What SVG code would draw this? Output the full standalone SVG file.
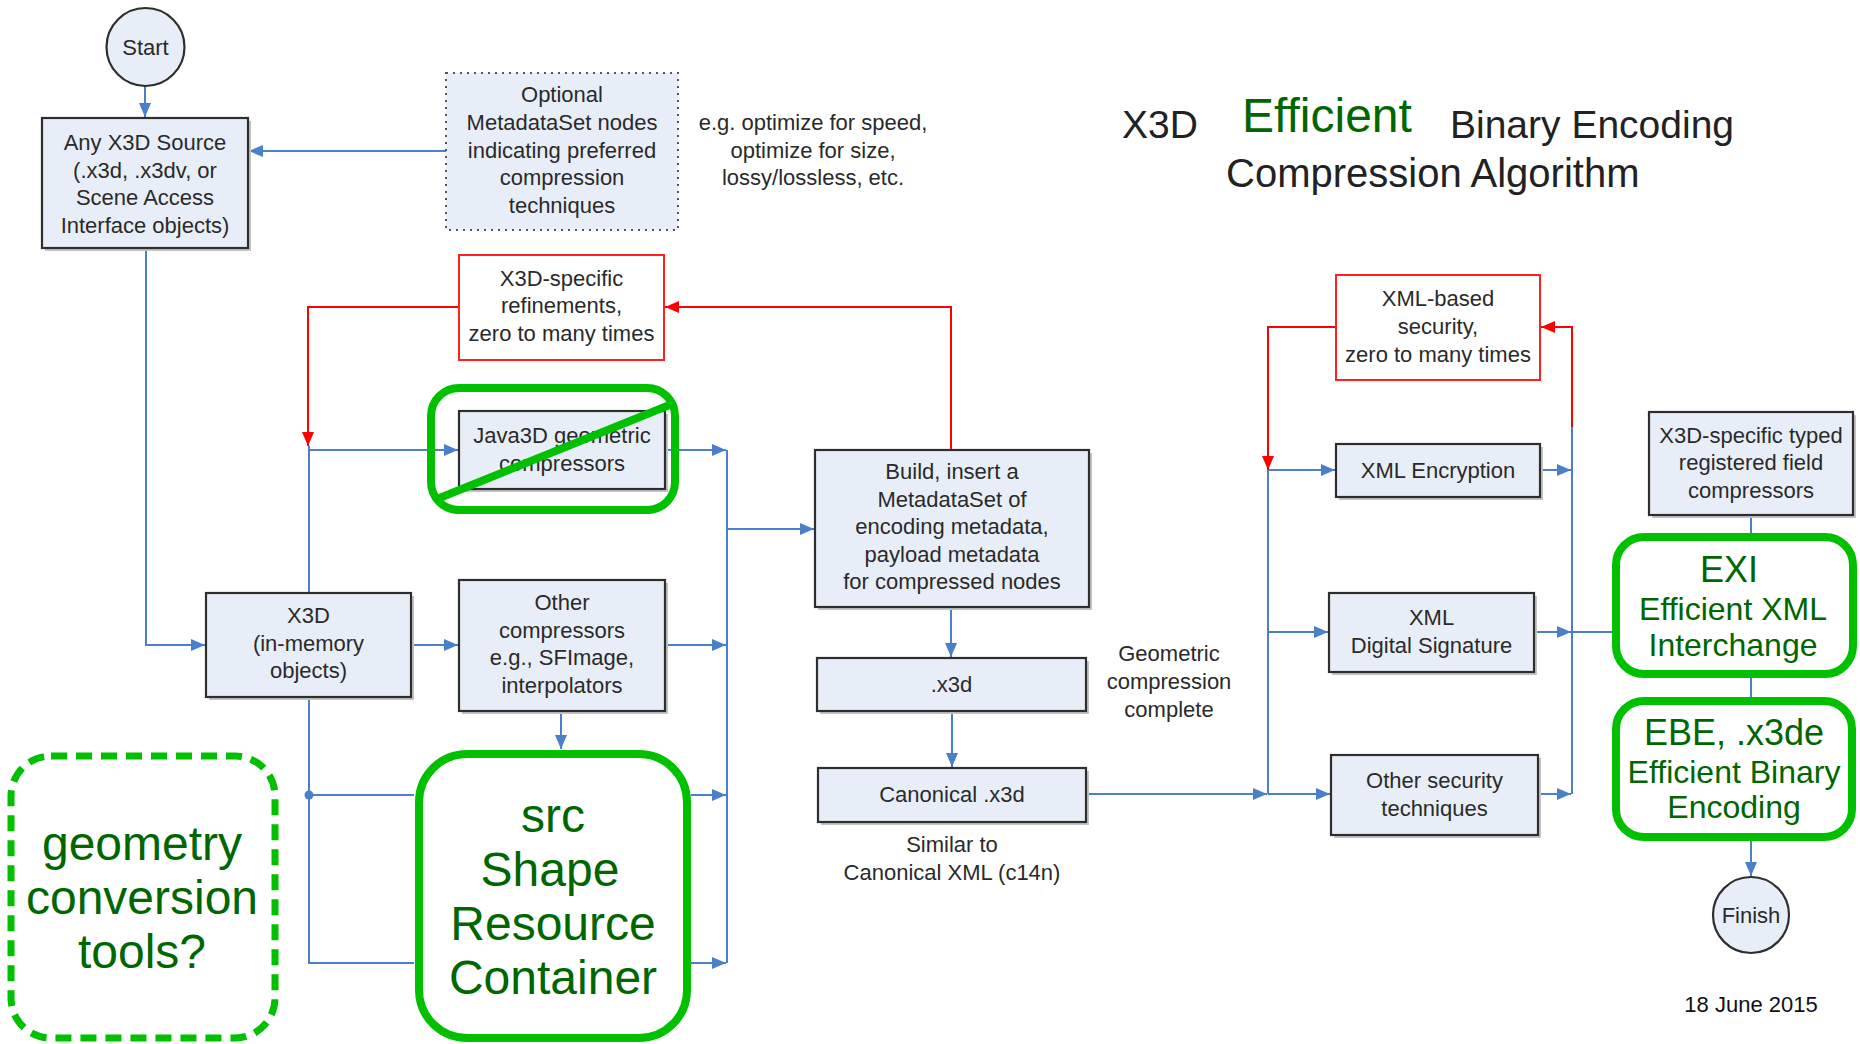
<svg xmlns="http://www.w3.org/2000/svg" width="1860" height="1044" viewBox="0 0 1860 1044">
<style>
.box{fill:#e8eef8;stroke:#2e2e2e;stroke-width:2.2}
.sh{fill:#c4c4c4}
.rbox{fill:#ffffff;stroke:#ff2020;stroke-width:2}
.dot{fill:#e8eef8;stroke:#555;stroke-width:2;stroke-dasharray:2 5}
.gbox{fill:#ffffff;stroke:#00c000;stroke-width:8}
.gdash{fill:#ffffff;stroke:#00c000;stroke-width:7;stroke-dasharray:16 9}
.t{font-family:"Liberation Sans",Arial,sans-serif;font-size:22px;fill:#2a2a2a;text-anchor:middle}
.g{font-family:"Liberation Sans",Arial,sans-serif;fill:#006600;text-anchor:middle}
.b{fill:none;stroke:#4a7fc9;stroke-width:2}
.r{fill:none;stroke:#ff0000;stroke-width:2}
.title{font-family:"Liberation Sans",Arial,sans-serif;font-size:39px;fill:#222}
</style>
<defs>
<marker id="ab" viewBox="0 0 14 12" markerWidth="14" markerHeight="12" refX="14" refY="6" orient="auto" markerUnits="userSpaceOnUse"><path d="M0,0 L14,6 L0,12 z" fill="#4a7fc9"/></marker>
<marker id="ar" viewBox="0 0 14 12" markerWidth="14" markerHeight="12" refX="14" refY="6" orient="auto" markerUnits="userSpaceOnUse"><path d="M0,0 L14,6 L0,12 z" fill="#ff0000"/></marker>
</defs>
<rect width="1860" height="1044" fill="#ffffff"/>

<g id="title">
<text class="title" x="1122" y="138">X3D</text>
<text class="title" x="1242" y="132" style="font-size:48px;fill:#006600">Efficient</text>
<text class="title" x="1450" y="138">Binary Encoding</text>
<text class="title" x="1226" y="187" style="font-size:40px">Compression Algorithm</text>
</g>

<g id="connectors">
<path class="b" d="M145,86 L145,117" marker-end="url(#ab)"/>
<path class="b" d="M446,151 L249,151" marker-end="url(#ab)"/>
<path class="b" d="M146,248 L146,645 L205,645" marker-end="url(#ab)"/>
<path class="b" d="M309,593 L309,446"/>
<path class="b" d="M309,450 L458,450" marker-end="url(#ab)"/>
<path class="b" d="M411,645 L458,645" marker-end="url(#ab)"/>
<path class="b" d="M665,450 L726,450" marker-end="url(#ab)"/>
<path class="b" d="M665,645 L726,645" marker-end="url(#ab)"/>
<path class="b" d="M561,711 L561,749" marker-end="url(#ab)"/>
<path class="b" d="M309,697 L309,963 L414,963"/>
<path class="b" d="M309,795 L414,795"/>
<circle cx="309" cy="795" r="4.5" fill="#4a7fc9"/>
<path class="b" d="M691,795 L726,795" marker-end="url(#ab)"/>
<path class="b" d="M691,963 L726,963" marker-end="url(#ab)"/>
<path class="b" d="M727,450 L727,963"/>
<path class="b" d="M727,529 L814,529" marker-end="url(#ab)"/>
<path class="b" d="M951,607 L951,657" marker-end="url(#ab)"/>
<path class="b" d="M952,711 L952,767" marker-end="url(#ab)"/>
<path class="b" d="M1086,794 L1267,794" marker-end="url(#ab)"/>
<path class="b" d="M1268,470 L1268,794"/>
<path class="b" d="M1268,470 L1335,470" marker-end="url(#ab)"/>
<path class="b" d="M1268,632 L1328,632" marker-end="url(#ab)"/>
<path class="b" d="M1268,794 L1330,794" marker-end="url(#ab)"/>
<path class="b" d="M1540,470 L1571,470" marker-end="url(#ab)"/>
<path class="b" d="M1534,632 L1571,632" marker-end="url(#ab)"/>
<path class="b" d="M1538,794 L1571,794" marker-end="url(#ab)"/>
<path class="b" d="M1572,427 L1572,794"/>
<path class="b" d="M1572,632 L1612,632"/>
<path class="b" d="M1751,515 L1751,533"/>
<path class="b" d="M1751,677 L1751,697"/>
<path class="b" d="M1751,840 L1751,876" marker-end="url(#ab)"/>
<path class="r" d="M951,450 L951,307 L665,307" marker-end="url(#ar)"/>
<path class="r" d="M459,307 L308,307 L308,446" marker-end="url(#ar)"/>
<path class="r" d="M1572,427 L1572,327 L1541,327" marker-end="url(#ar)"/>
<path class="r" d="M1336,327 L1268,327 L1268,470" marker-end="url(#ar)"/>
</g>

<g id="start">
<circle cx="145.5" cy="47" r="39" class="box"/>
<text class="t" x="145.5" y="54.5">Start</text>
</g>

<g id="source">
<rect class="sh" x="45" y="121" width="206" height="130"/>
<rect class="box" x="42" y="118" width="206" height="130"/>
<text class="t" x="145" y="150">Any X3D Source</text>
<text class="t" x="145" y="177.5">(.x3d, .x3dv, or</text>
<text class="t" x="145" y="205">Scene Access</text>
<text class="t" x="145" y="232.5">Interface objects)</text>
</g>

<g id="optional">
<rect class="dot" x="446" y="73" width="232" height="157"/>
<text class="t" x="562" y="102">Optional</text>
<text class="t" x="562" y="130">MetadataSet nodes</text>
<text class="t" x="562" y="157.5">indicating preferred</text>
<text class="t" x="562" y="185">compression</text>
<text class="t" x="562" y="212.5">techniques</text>
</g>

<g id="optimize-note">
<text class="t" x="813" y="130">e.g. optimize for speed,</text>
<text class="t" x="813" y="157.5">optimize for size,</text>
<text class="t" x="813" y="185">lossy/lossless, etc.</text>
</g>

<g id="refinements">
<rect class="rbox" x="459" y="255" width="205" height="105"/>
<text class="t" x="561.5" y="285.5">X3D-specific</text>
<text class="t" x="561.5" y="313">refinements,</text>
<text class="t" x="561.5" y="340.5">zero to many times</text>
</g>

<g id="java3d">
<rect class="sh" x="462" y="414" width="206" height="78"/>
<rect class="box" x="459" y="411" width="206" height="78"/>
<text class="t" x="562" y="443">Java3D geometric</text>
<text class="t" x="562" y="470.5">compressors</text>
<rect x="431" y="388" width="244" height="122" rx="28" fill="none" stroke="#00c000" stroke-width="8"/>
<line x1="437" y1="499" x2="672" y2="404" stroke="#00c000" stroke-width="8" stroke-linecap="round"/>
</g>

<g id="x3d-memory">
<rect class="sh" x="209" y="596" width="205" height="104"/>
<rect class="box" x="206" y="593" width="205" height="104"/>
<text class="t" x="308.5" y="622.5">X3D</text>
<text class="t" x="308.5" y="650.5">(in-memory</text>
<text class="t" x="308.5" y="678">objects)</text>
</g>

<g id="other-compressors">
<rect class="sh" x="462" y="583" width="206" height="131"/>
<rect class="box" x="459" y="580" width="206" height="131"/>
<text class="t" x="562" y="609.5">Other</text>
<text class="t" x="562" y="637.5">compressors</text>
<text class="t" x="562" y="665">e.g., SFImage,</text>
<text class="t" x="562" y="692.5">interpolators</text>
</g>

<g id="build">
<rect class="sh" x="818" y="453" width="274" height="157"/>
<rect class="box" x="815" y="450" width="274" height="157"/>
<text class="t" x="952" y="478.5">Build, insert a</text>
<text class="t" x="952" y="506.5">MetadataSet of</text>
<text class="t" x="952" y="534">encoding metadata,</text>
<text class="t" x="952" y="561.5">payload metadata</text>
<text class="t" x="952" y="589">for compressed nodes</text>
</g>

<g id="x3d-file">
<rect class="sh" x="820" y="661" width="269" height="53"/>
<rect class="box" x="817" y="658" width="269" height="53"/>
<text class="t" x="951.5" y="691.5">.x3d</text>
</g>

<g id="canonical">
<rect class="sh" x="821" y="771" width="268" height="54"/>
<rect class="box" x="818" y="768" width="268" height="54"/>
<text class="t" x="952" y="802">Canonical .x3d</text>
</g>

<g id="geometric-note">
<text class="t" x="1169" y="660.5">Geometric</text>
<text class="t" x="1169" y="689">compression</text>
<text class="t" x="1169" y="717">complete</text>
</g>

<g id="similar-note">
<text class="t" x="952" y="851.5">Similar to</text>
<text class="t" x="952" y="879.5">Canonical XML (c14n)</text>
</g>

<g id="src">
<rect class="gbox" x="419" y="754" width="268" height="284" rx="48"/>
<text class="g" x="553" y="832" font-size="48">src</text>
<text class="g" x="550" y="886" font-size="48">Shape</text>
<text class="g" x="553" y="940" font-size="48">Resource</text>
<text class="g" x="553" y="994" font-size="48">Container</text>
</g>

<g id="geometry-tools">
<rect class="gdash" x="11" y="756" width="264" height="282" rx="40"/>
<text class="g" x="142" y="860" font-size="48">geometry</text>
<text class="g" x="142" y="914" font-size="48">conversion</text>
<text class="g" x="142" y="968" font-size="48">tools?</text>
</g>

<g id="xml-security">
<rect class="rbox" x="1336" y="275" width="204" height="105"/>
<text class="t" x="1438" y="305.5">XML-based</text>
<text class="t" x="1438" y="334">security,</text>
<text class="t" x="1438" y="361.5">zero to many times</text>
</g>

<g id="xml-encryption">
<rect class="sh" x="1339" y="447" width="204" height="53"/>
<rect class="box" x="1336" y="444" width="204" height="53"/>
<text class="t" x="1438" y="477.5">XML Encryption</text>
</g>

<g id="xml-signature">
<rect class="sh" x="1332" y="596" width="205" height="79"/>
<rect class="box" x="1329" y="593" width="205" height="79"/>
<text class="t" x="1431.5" y="624.5">XML</text>
<text class="t" x="1431.5" y="652.5">Digital Signature</text>
</g>

<g id="other-security">
<rect class="sh" x="1334" y="758" width="207" height="80"/>
<rect class="box" x="1331" y="755" width="207" height="80"/>
<text class="t" x="1434.5" y="787.5">Other security</text>
<text class="t" x="1434.5" y="815.5">techniques</text>
</g>

<g id="x3d-typed">
<rect class="sh" x="1652" y="415" width="204" height="103"/>
<rect class="box" x="1649" y="412" width="204" height="103"/>
<text class="t" x="1751" y="442.5">X3D-specific typed</text>
<text class="t" x="1751" y="469.5">registered field</text>
<text class="t" x="1751" y="497.5">compressors</text>
</g>

<g id="exi">
<rect class="gbox" x="1616" y="537" width="237" height="137" rx="28"/>
<text class="g" x="1729" y="582" font-size="36">EXI</text>
<text class="g" x="1733" y="620" font-size="32">Efficient XML</text>
<text class="g" x="1733" y="656" font-size="32">Interchange</text>
</g>

<g id="ebe">
<rect class="gbox" x="1616" y="701" width="236" height="136" rx="28"/>
<text class="g" x="1734" y="745" font-size="36">EBE, .x3de</text>
<text class="g" x="1734" y="783" font-size="32">Efficient Binary</text>
<text class="g" x="1734" y="818" font-size="32">Encoding</text>
</g>

<g id="finish">
<circle cx="1751" cy="915" r="38" class="box"/>
<text class="t" x="1751" y="922.5">Finish</text>
</g>

<g id="date">
<text class="t" x="1751" y="1012" style="fill:#111">18 June 2015</text>
</g>
</svg>
